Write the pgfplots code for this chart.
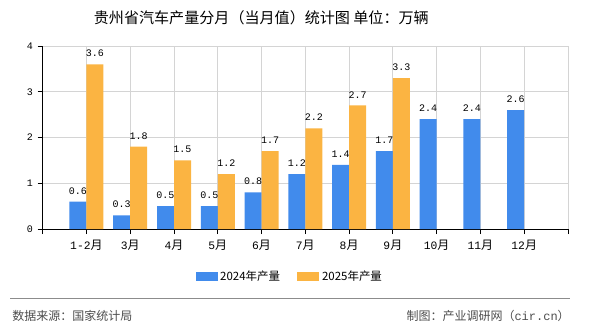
\documentclass[border=0pt]{standalone}
\usepackage{fontspec}
\setmainfont{Noto Sans CJK SC}
\newfontfamily\mono{Liberation Mono}
\usepackage{pgfplots}
\pgfplotsset{compat=1.18}
\definecolor{cblue}{RGB}{65,139,236}
\definecolor{corange}{RGB}{251,180,66}
\definecolor{gridc}{RGB}{212,212,212}
\newcommand\m[1]{{\mono\fontsize{8.5}{10}\selectfont #1}}
\begin{document}
\begin{tikzpicture}
\path[use as bounding box] (0pt,0pt) rectangle (442.5pt,-247.5pt);
\node[font=\fontsize{11.3}{13}\selectfont] at (196pt,-13.5pt) {贵州省汽车产量分月（当月值）统计图 单位：万辆};
\begin{axis}[
  at={(32pt,-171.75pt)}, anchor=south west,
  scale only axis, width=394pt, height=137.25pt,
  xmin=0, xmax=12, ymin=0, ymax=4,
  enlargelimits=false,
  axis x line=bottom, axis y line=left,
  axis line style={-, black, line width=0.75pt},
  tick style={black, line width=0.75pt},
  tick align=outside, major tick length=3.75pt,
  xtick={0,...,12},
  xticklabels={{},\m{1-2}月,\m{3}月,\m{4}月,\m{5}月,\m{6}月,\m{7}月,\m{8}月,\m{9}月,\m{10}月,\m{11}月,\m{12}月,{}},
  xticklabel style={font=\fontsize{9}{10}\selectfont, yshift=-1pt},
  ytick={0,1,2,3,4},
  yticklabel style={font=\mono\fontsize{7.5}{9}\selectfont},
  /pgf/number format/assume math mode=true,
  grid=major,
  major grid style={gridc, line width=0.75pt},
  ybar, bar width=12.75pt,
  nodes near coords,
  every node near coord/.append style={font=\mono\fontsize{7.5}{9}\selectfont, black, yshift=2pt},
  legend style={at={(0.471,-0.262)}, anchor=center, draw=none, fill=none,
    legend columns=2, font=\fontsize{8.6}{10}\selectfont,
    /tikz/every even column/.append style={column sep=11pt}},
  legend image code/.code={\fill[#1] (0pt,-3.4pt) rectangle (16.5pt,3.4pt);},
]
\addplot[fill=cblue, draw=none, bar shift=-6.375pt] coordinates {
(1,0.6) (2,0.3) (3,0.5) (4,0.5) (5,0.8) (6,1.2) (7,1.4) (8,1.7) (9,2.4) (10,2.4) (11,2.6)};
\addlegendentry{2024年产量}
\addplot[fill=corange, draw=none, bar shift=6.375pt] coordinates {
(1,3.6) (2,1.8) (3,1.5) (4,1.2) (5,1.7) (6,2.2) (7,2.7) (8,3.3)};
\addlegendentry{2025年产量}
\end{axis}
\draw[gray!90, line width=0.75pt] (7.5pt,-223.5pt) -- (427.5pt,-223.5pt);
\node[anchor=west, text=black!70, font=\fontsize{9}{10}\selectfont, inner sep=0pt] at (9pt,-237pt) {数据来源：国家统计局};
\node[anchor=east, text=black!70, font=\fontsize{9}{10}\selectfont, inner sep=0pt] at (427.5pt,-237pt) {制图：产业调研网（{\mono cir.cn}）};
\end{tikzpicture}
\end{document}
